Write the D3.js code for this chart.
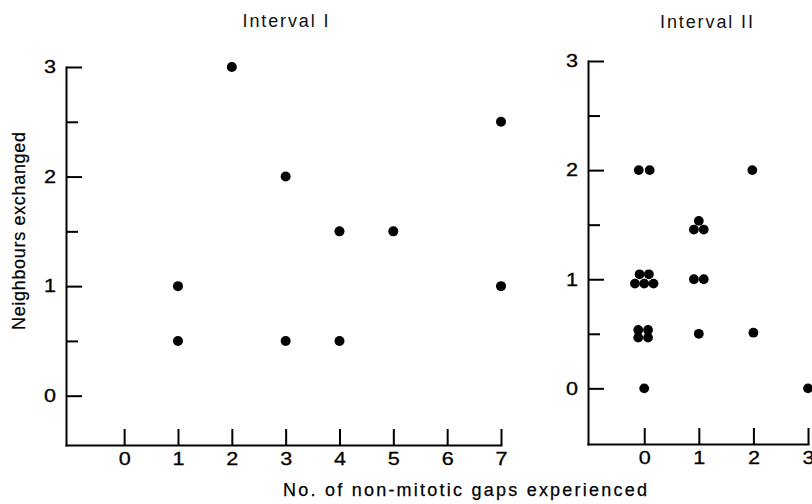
<!DOCTYPE html>
<html>
<head>
<meta charset="utf-8">
<script src="https://cdn.jsdelivr.net/npm/d3@7"></script>
<style>
  html, body { margin: 0; padding: 0; background: #fff; }
  svg { display: block; }
</style>
</head>
<body>
<svg id="chart" width="812" height="504"></svg>
<script>
// ---- Data ----
const titles = ["Interval I", "Interval II"];
const xLabel = "No. of non-mitotic gaps experienced";
const yLabel = "Neighbours exchanged";

// Interval I
const leftXTicks = [0, 1, 2, 3, 4, 5, 6, 7];
const leftX = [2, 3, 4, 5, 1, 1, 3, 4, 7, 7];
const leftY = [3, 2, 1.5, 1.5, 1, 0.5, 0.5, 0.5, 2.5, 1];

// Interval II (clustered points show their small offsets as drawn)
const rightXTicks = [0, 1, 2, 3];
const rightX = [-0.1, 0.1, 1.98, 1.0, 0.91, 1.09, 0.91, 1.09,
                -0.085, 0.085, -0.17, 0, 0.17,
                -0.11, 0.07, -0.11, 0.07, 1, 2, 0, 3];
const rightY = [2, 2, 2, 1.535, 1.455, 1.455, 1, 1,
                1.045, 1.045, 0.96, 0.96, 0.96,
                0.535, 0.535, 0.465, 0.465, 0.5, 0.51, 0, 0];

const yMajor = [0, 1, 2, 3];
const yMinor = [0.5, 1.5, 2.5];

// ---- Layout ----
const svg = d3.select("#chart");
const FONT = "'Liberation Sans', Arial, Helvetica, sans-serif";
const FS = 18;
const SX = 1.2; // horizontal stretch for the wide tick-label digits

const panels = [
  { title: titles[0], xs: leftX, ys: leftY, xTicks: leftXTicks,
    xDomain: [-1.08, 7], xRange: [66, 501],
    yDomain: [-0.45, 3], yRange: [445, 67],
    titleX: 285.5, titleY: 27, titleLen: 86, r: 5 },
  { title: titles[1], xs: rightX, ys: rightY, xTicks: rightXTicks,
    xDomain: [-1.03, 3], xRange: [588, 808],
    yDomain: [-0.51, 3], yRange: [444, 61],
    titleX: 706.5, titleY: 28, titleLen: 93, r: 4.9 }
];

panels.forEach(p => {
  const x = d3.scaleLinear().domain(p.xDomain).range(p.xRange);
  const y = d3.scaleLinear().domain(p.yDomain).range(p.yRange);
  const g = svg.append("g");

  // x axis
  const gx = g.append("g")
    .attr("transform", `translate(0,${p.yRange[0]})`)
    .call(d3.axisBottom(x).tickValues(p.xTicks).tickSizeInner(-16).tickSizeOuter(0)
      .tickPadding(7).tickFormat(d3.format("d")));
  // y axis major
  const gy = g.append("g")
    .attr("transform", `translate(${p.xRange[0]},0)`)
    .call(d3.axisLeft(y).tickValues(yMajor).tickSizeInner(-16).tickSizeOuter(0)
      .tickPadding(10).tickFormat(d3.format("d")));
  // y axis minor
  const gym = g.append("g")
    .attr("transform", `translate(${p.xRange[0]},0)`)
    .call(d3.axisLeft(y).tickValues(yMinor).tickSizeInner(-12).tickSizeOuter(0)
      .tickFormat(""));
  gym.select(".domain").remove();

  [gx, gy, gym].forEach(a => {
    a.attr("font-family", FONT).attr("font-size", FS);
    a.selectAll("path, line").attr("stroke", "#000").attr("stroke-width", 2);
    a.selectAll("text").attr("fill", "#000")
      .attr("stroke", "#000").attr("stroke-width", 0.3);
  });
  gx.selectAll(".tick text").attr("transform", `scale(${SX},1)`);
  gy.selectAll(".tick text").attr("x", -10 / SX).attr("transform", `scale(${SX},1)`);
  gx.select(".domain").attr("stroke-linecap", "square");
  gy.select(".domain").attr("stroke-linecap", "square");

  // points
  g.append("g").selectAll("circle")
    .data(p.xs.map((v, i) => [v, p.ys[i]]))
    .join("circle")
    .attr("cx", d => x(d[0]))
    .attr("cy", d => y(d[1]))
    .attr("r", p.r)
    .attr("fill", "#000");

  // title
  g.append("text")
    .attr("x", p.titleX).attr("y", p.titleY)
    .attr("text-anchor", "middle")
    .attr("font-family", FONT).attr("font-size", FS)
    .attr("textLength", p.titleLen).attr("lengthAdjust", "spacing")
    .attr("fill", "#111")
    .text(p.title);
});

// x label
svg.append("text")
  .attr("x", 465).attr("y", 496)
  .attr("text-anchor", "middle")
  .attr("font-family", FONT).attr("font-size", FS)
  .attr("textLength", 364).attr("lengthAdjust", "spacing")
  .attr("fill", "#000").attr("stroke", "#000").attr("stroke-width", 0.25)
  .text(xLabel);

// y label
svg.append("text")
  .attr("transform", "translate(25,231) rotate(-90)")
  .attr("text-anchor", "middle")
  .attr("font-family", FONT).attr("font-size", FS)
  .attr("textLength", 198).attr("lengthAdjust", "spacing")
  .attr("fill", "#000").attr("stroke", "#000").attr("stroke-width", 0.25)
  .text(yLabel);
</script>
</body>
</html>
